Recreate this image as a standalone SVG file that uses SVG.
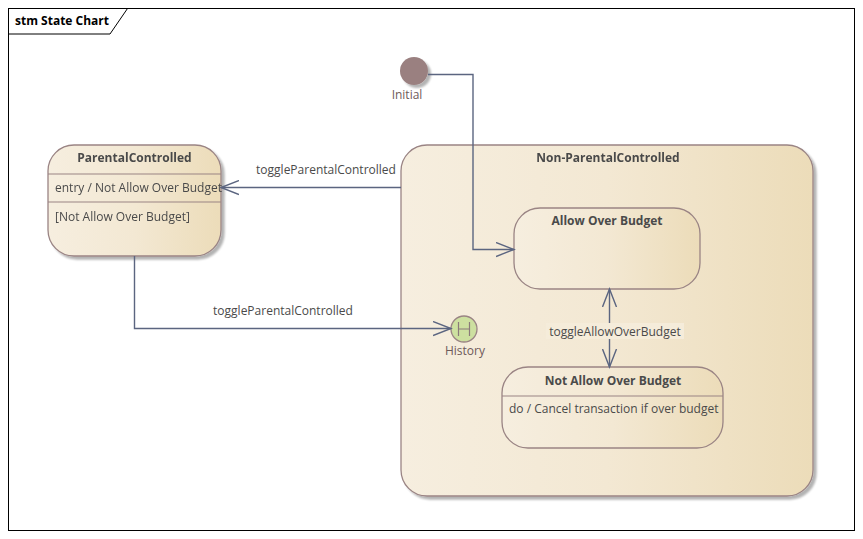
<svg xmlns="http://www.w3.org/2000/svg" width="863" height="539" viewBox="0 0 863 539">
<defs>
<linearGradient id="fill" x1="0" y1="0" x2="1" y2="0">
<stop offset="0" stop-color="#f6eedf"/>
<stop offset="0.5" stop-color="#f3e8d3"/>
<stop offset="1" stop-color="#ecdcb9"/>
</linearGradient>
<marker id="open" markerWidth="20" markerHeight="16" viewBox="0 0 20 16" refX="18" refY="8" orient="auto-start-reverse" markerUnits="userSpaceOnUse">
<path d="M0,1 L18,8 L0,15" fill="none" stroke="#5b6580" stroke-width="1.4"/>
</marker>
<filter id="sh" x="-10%" y="-10%" width="130%" height="130%">
<feGaussianBlur in="SourceAlpha" stdDeviation="1.2"/>
<feOffset dx="3" dy="3" result="o"/>
<feComponentTransfer><feFuncA type="linear" slope="0.3"/></feComponentTransfer>
<feMerge><feMergeNode/><feMergeNode in="SourceGraphic"/></feMerge>
</filter>
</defs>
<style>
text{font-family:"Open Sans","Noto Sans","Liberation Sans",sans-serif;font-size:12px;fill:#4a4a4a}
.b{font-weight:bold}
.st{fill:url(#fill);stroke:#9a8484;stroke-width:1.3}
.div{stroke:#9a8484;stroke-width:1.2}
.ln{fill:none;stroke:#5b6580;stroke-width:1.4}
.lbl{fill:#6e5a5a}
</style>
<rect x="0" y="0" width="863" height="539" fill="#ffffff"/>
<g id="frame">
<rect x="8.5" y="8.5" width="846" height="522" fill="none" stroke="#000" stroke-width="1"/>
<path d="M8.5,34 L110,34 L127.5,8.5" fill="none" stroke="#000" stroke-width="1"/>
<text class="b" x="15" y="25" style="fill:#000">stm State Chart</text>
</g>
<g id="NonParentalControlled" filter="url(#sh)">
<rect class="st" x="401" y="145" width="412" height="351" rx="26"/>
<text class="b" x="608" y="162" text-anchor="middle">Non-ParentalControlled</text>
</g>
<g id="ParentalControlled" filter="url(#sh)">
<rect class="st" x="48" y="145" width="173" height="111" rx="26"/>
<line class="div" x1="48" y1="174" x2="221" y2="174"/>
<line class="div" x1="48" y1="202" x2="221" y2="202"/>
<text class="b" x="134.5" y="162" text-anchor="middle">ParentalControlled</text>
<text x="55" y="192">entry / Not Allow Over Budget</text>
<text x="55" y="221">[Not Allow Over Budget]</text>
</g>
<g id="AllowOverBudget">
<rect class="st" x="514" y="208" width="186" height="81" rx="26"/>
<text class="b" x="607" y="225" text-anchor="middle">Allow Over Budget</text>
</g>
<g id="NotAllowOverBudget">
<rect class="st" x="502" y="367" width="221" height="81" rx="26"/>
<line class="div" x1="502" y1="396" x2="723" y2="396"/>
<text class="b" x="613" y="385" text-anchor="middle">Not Allow Over Budget</text>
<text x="509" y="413">do / Cancel transaction if over budget</text>
</g>
<g id="Initial">
<circle cx="414" cy="71" r="14" fill="#9a8080" filter="url(#sh)"/>
<text class="lbl" x="407" y="99" text-anchor="middle">Initial</text>
</g>
<g id="History">
<circle cx="464" cy="329" r="13" fill="#cde0a0" stroke="#9a8484" stroke-width="1.3"/>
<path d="M458.5,322 V336 M469.5,322 V336 M458.5,329 H469.5" stroke="#8a7a7a" stroke-width="1.2" fill="none"/>
<text class="lbl" x="465" y="355" text-anchor="middle">History</text>
</g>
<g id="connectors">
<path class="ln" d="M428,74.5 H473 V249.5 H514" marker-end="url(#open)"/>
<path class="ln" d="M401,187.5 H221" marker-end="url(#open)"/>
<text x="326" y="174" text-anchor="middle">toggleParentalControlled</text>
<path class="ln" d="M134.5,256 V328.5 H451" marker-end="url(#open)"/>
<text x="283" y="315" text-anchor="middle">toggleParentalControlled</text>
<path class="ln" d="M609.5,289 V367" marker-start="url(#open)" marker-end="url(#open)"/>
<rect x="546" y="323" width="138" height="16" fill="#f5ecda"/>
<text x="615" y="335.5" text-anchor="middle">toggleAllowOverBudget</text>
</g>
</svg>
